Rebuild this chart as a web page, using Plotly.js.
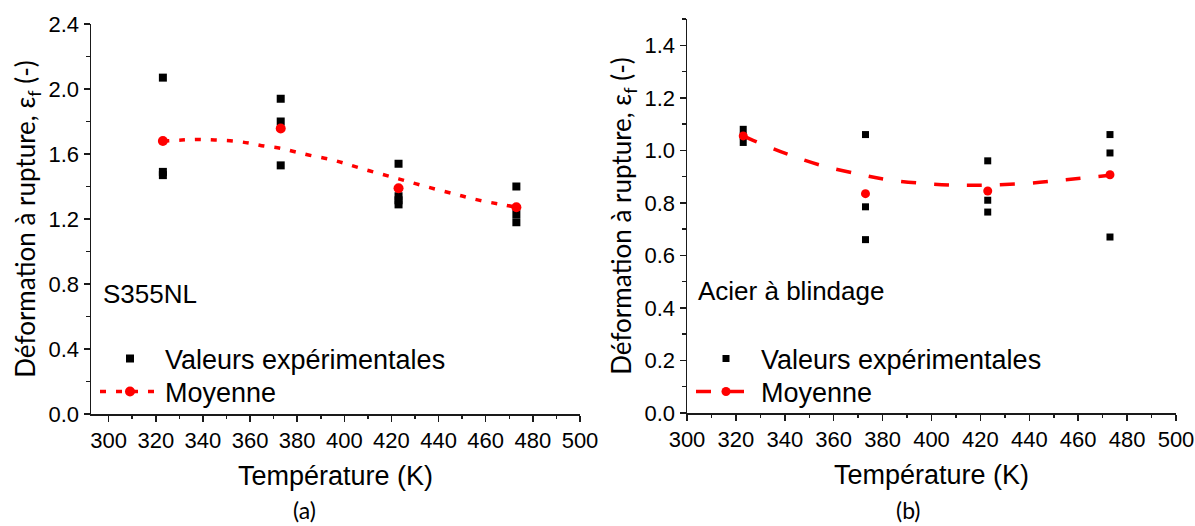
<!DOCTYPE html>
<html>
<head>
<meta charset="utf-8">
<script src="https://cdn.plot.ly/plotly-3.0.1.min.js"></script>
<style>
  html, body { margin: 0; padding: 0; background: #ffffff; }
  #chart { width: 1195px; height: 526px; }
</style>
</head>
<body>
<div id="chart"></div>
<script>
// ---------- Data ----------
// (a) S355NL
const tempA = [323, 323, 323, 373, 373, 373, 423, 423, 423, 423, 473, 473, 473];
const valA  = [2.07, 1.49, 1.47, 1.94, 1.80, 1.53, 1.54, 1.34, 1.315, 1.29, 1.40, 1.23, 1.18];
const meanTempA = [323, 373, 423, 473];
const meanA     = [1.68, 1.757, 1.389, 1.272];
const fitTempA  = [323, 331, 338, 345, 353, 360, 366, 373, 379, 386, 394, 400, 406, 413, 420, 426, 433, 440, 447, 453, 460, 467, 473];
const fitA      = [1.680, 1.686, 1.690, 1.686, 1.680, 1.666, 1.649, 1.635, 1.614, 1.590, 1.567, 1.543, 1.516, 1.487, 1.459, 1.435, 1.406, 1.379, 1.353, 1.330, 1.307, 1.289, 1.272];

// (b) Acier à blindage
const tempB = [323, 323, 323, 373, 373, 373, 423, 423, 423, 473, 473, 473];
const valB  = [1.08, 1.055, 1.03, 1.06, 0.785, 0.66, 0.96, 0.81, 0.765, 1.06, 0.99, 0.67];
const meanTempB = [323, 373, 423, 473];
const meanB     = [1.055, 0.835, 0.845, 0.907];
const fitTempB  = [323, 327, 340, 354, 370, 383, 400, 412, 425, 440, 455, 473];
const fitB      = [1.055, 1.038, 0.989, 0.945, 0.910, 0.887, 0.872, 0.867, 0.868, 0.875, 0.888, 0.905];

const xTitle = "Température (K)";
const yTitle = "Déformation à rupture, ε<sub>f</sub> (-)";
const legendNames = ["Valeurs expérimentales", "Moyenne"];
const panelLabels = ["(a)", "(b)"];
const materialLabels = ["S355NL", "Acier à blindage"];

// ---------- Styles ----------
const ARIAL = "Liberation Sans, Arial, sans-serif";
const CAL = "Lato, Liberation Sans, sans-serif";
const RED = "#ff0000";
const dashA = "6px,10px";
const dashB = "15px,18px";

const traces = [
  // Panel (a)
  {x: tempA, y: valA, type: "scatter", mode: "markers", name: legendNames[0],
   marker: {symbol: "square", size: 8, color: "#000000"}, xaxis: "x", yaxis: "y", legend: "legend"},
  {x: fitTempA, y: fitA, type: "scatter", mode: "lines", line: {color: RED, width: 3.5, dash: dashA, shape: "spline"},
   showlegend: false, xaxis: "x", yaxis: "y", hoverinfo: "skip"},
  {x: meanTempA, y: meanA, type: "scatter", mode: "markers", marker: {symbol: "circle", size: 10, color: RED},
   showlegend: false, xaxis: "x", yaxis: "y"},
  {x: [null], y: [null], type: "scatter", mode: "lines+markers", name: legendNames[1],
   line: {color: RED, width: 3.5, dash: dashA}, marker: {symbol: "circle", size: 10, color: RED},
   xaxis: "x", yaxis: "y", legend: "legend2"},

  // Panel (b)
  {x: tempB, y: valB, type: "scatter", mode: "markers", name: legendNames[0],
   marker: {symbol: "square", size: 7, color: "#000000"}, xaxis: "x2", yaxis: "y2", legend: "legend3"},
  {x: fitTempB, y: fitB, type: "scatter", mode: "lines", line: {color: RED, width: 3.5, dash: dashB, shape: "spline"},
   showlegend: false, xaxis: "x2", yaxis: "y2", hoverinfo: "skip"},
  {x: meanTempB, y: meanB, type: "scatter", mode: "markers", marker: {symbol: "circle", size: 9, color: RED},
   showlegend: false, xaxis: "x2", yaxis: "y2"},
  {x: [null], y: [null], type: "scatter", mode: "lines+markers", name: legendNames[1],
   line: {color: RED, width: 3.5, dash: dashB}, marker: {symbol: "circle", size: 9, color: RED},
   xaxis: "x2", yaxis: "y2", legend: "legend4"}
];

const W = 1195, H = 526;
function px(x) { return x / W; }
function py(y) { return 1 - y / H; }

const axisCommon = {
  showline: true, linecolor: "#1a1a1a", linewidth: 1.5,
  ticks: "outside", ticklen: 6, tickwidth: 1.5, tickcolor: "#1a1a1a",
  showgrid: false, zeroline: false,
  tickfont: {family: ARIAL, size: 22, color: "#000000"}
};

function legendAt(xPix, yPix) {
  return {
    x: px(xPix), y: py(yPix), xanchor: "left", yanchor: "middle",
    bgcolor: "rgba(0,0,0,0)", borderwidth: 0,
    font: {family: ARIAL, size: 27, color: "#000000"},
    itemwidth: 60, tracegroupgap: 0
  };
}

const layout = {
  width: W, height: H,
  margin: {l: 0, r: 0, t: 0, b: 0},
  paper_bgcolor: "#ffffff", plot_bgcolor: "#ffffff",
  showlegend: true,
  xaxis: Object.assign({}, axisCommon, {
    domain: [px(91), px(580)], range: [292.5, 500], anchor: "y",
    tick0: 300, dtick: 20,
    minor: {dtick: 10, ticks: "outside", ticklen: 3.5, tickwidth: 1.5, tickcolor: "#1a1a1a"},
    title: {text: xTitle, font: {family: ARIAL, size: 27, color: "#000000"}, standoff: 14}
  }),
  yaxis: Object.assign({}, axisCommon, {
    domain: [py(414), py(24)], range: [0, 2.4], anchor: "x",
    tick0: 0, dtick: 0.4, tickformat: ".1f",
    minor: {dtick: 0.2, ticks: "outside", ticklen: 3.5, tickwidth: 1.5, tickcolor: "#1a1a1a"},
    title: {text: yTitle, font: {family: CAL, size: 26, color: "#000000"}, standoff: 5}
  }),
  xaxis2: Object.assign({}, axisCommon, {
    domain: [px(687), px(1176)], range: [300, 500], anchor: "y2",
    tick0: 300, dtick: 20,
    minor: {dtick: 10, ticks: "outside", ticklen: 3.5, tickwidth: 1.5, tickcolor: "#1a1a1a"},
    title: {text: xTitle, font: {family: ARIAL, size: 27, color: "#000000"}, standoff: 14}
  }),
  yaxis2: Object.assign({}, axisCommon, {
    domain: [py(413), py(19)], range: [0, 1.5], anchor: "x2",
    tick0: 0, dtick: 0.2, tickformat: ".1f",
    minor: {dtick: 0.1, ticks: "outside", ticklen: 3.5, tickwidth: 1.5, tickcolor: "#1a1a1a"},
    title: {text: yTitle, font: {family: CAL, size: 26, color: "#000000"}, standoff: 5}
  }),
  legend: legendAt(95, 359),
  legend2: legendAt(95, 392),
  legend3: legendAt(691, 359),
  legend4: legendAt(691, 392),
  annotations: [
    {text: materialLabels[0], xref: "paper", yref: "paper", x: px(101), y: py(294),
     xanchor: "left", yanchor: "middle", showarrow: false, font: {family: ARIAL, size: 26, color: "#000000"}},
    {text: materialLabels[1], xref: "paper", yref: "paper", x: px(696), y: py(291),
     xanchor: "left", yanchor: "middle", showarrow: false, font: {family: ARIAL, size: 26, color: "#000000"}},
    {text: panelLabels[0], xref: "paper", yref: "paper", x: px(304), y: 0,
     xanchor: "center", yanchor: "bottom", showarrow: false, font: {family: CAL, size: 23, color: "#000000"}},
    {text: panelLabels[1], xref: "paper", yref: "paper", x: px(908), y: 0,
     xanchor: "center", yanchor: "bottom", showarrow: false, font: {family: CAL, size: 23, color: "#000000"}}
  ]
};

Plotly.newPlot("chart", traces, layout, {displayModeBar: false, staticPlot: true});
</script>
</body>
</html>
